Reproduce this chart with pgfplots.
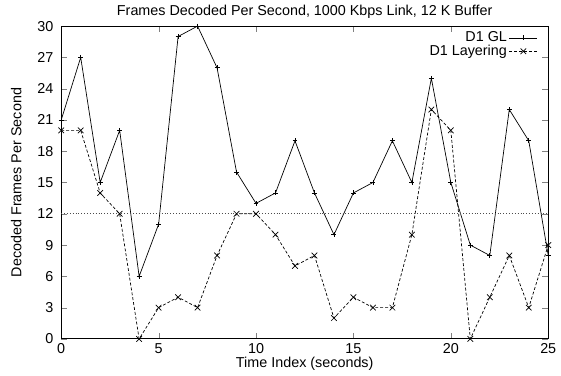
\documentclass[border=0pt]{standalone}
\usepackage{fontspec}
\setmainfont{Liberation Sans}
\usepackage{pgfplots}
\pgfplotsset{compat=1.18}
\begin{document}
\fontsize{14.5}{16}\selectfont
\begin{tikzpicture}
\begin{axis}[
  scale only axis,
  width=492pt, height=316pt,
  xmin=0, xmax=25, ymin=0, ymax=30,
  xtick={0,5,10,15,20,25},
  ytick={0,3,6,9,12,15,18,21,24,27,30},
  tick align=inside,
  major tick length=6pt,
  axis line style={line width=0.9pt},
  /pgf/number format/assume math mode=true,
  ticklabel style={font=\fontsize{14.5}{16}\selectfont},
  yticklabel style={xshift=-3pt},
  label style={font=\fontsize{14.5}{16}\selectfont},
  title style={font=\fontsize{14.5}{16}\selectfont, yshift=-3pt},
  title={Frames Decoded Per Second, 1000 Kbps Link, 12 K Buffer},
  xlabel={Time Index (seconds)},
  ylabel={Decoded Frames Per Second},
  xlabel style={yshift=7pt},
  ylabel style={inner ysep=11pt},
  legend plot pos=right,
  legend cell align=right,
  legend style={draw=none, fill=none, at={(0.985,0.995)}, anchor=north east, row sep=-3pt, font=\fontsize{14.5}{16}\selectfont},
  legend image code/.code={\draw[mark repeat=2,mark phase=2,#1] plot coordinates {(0cm,0cm)(0.5cm,0cm)(1.0cm,0cm)};},
]
\addplot[black, line width=0.7pt, mark=+, mark size=2.5pt] coordinates {
(0,21) (1,27) (2,15) (3,20) (4,6) (5,11) (6,29) (7,30) (8,26) (9,16) (10,13) (11,14) (12,19) (13,14) (14,10) (15,14) (16,15) (17,19) (18,15) (19,25) (20,15) (21,9) (22,8) (23,22) (24,19) (25,8)
};
\addlegendentry{D1 GL}
\addplot[black, line width=0.7pt, dash pattern=on 3pt off 2pt, mark=x, mark size=4pt, mark options={solid}] coordinates {
(0,20) (1,20) (2,14) (3,12) (4,0) (5,3) (6,4) (7,3) (8,8) (9,12) (10,12) (11,10) (12,7) (13,8) (14,2) (15,4) (16,3) (17,3) (18,10) (19,22) (20,20) (21,0) (22,4) (23,8) (24,3) (25,9)
};
\addlegendentry{D1 Layering}
\addplot[black!70, line width=0.9pt, dotted, forget plot] coordinates {(0,12) (25,12)};
\end{axis}
\end{tikzpicture}
\end{document}
